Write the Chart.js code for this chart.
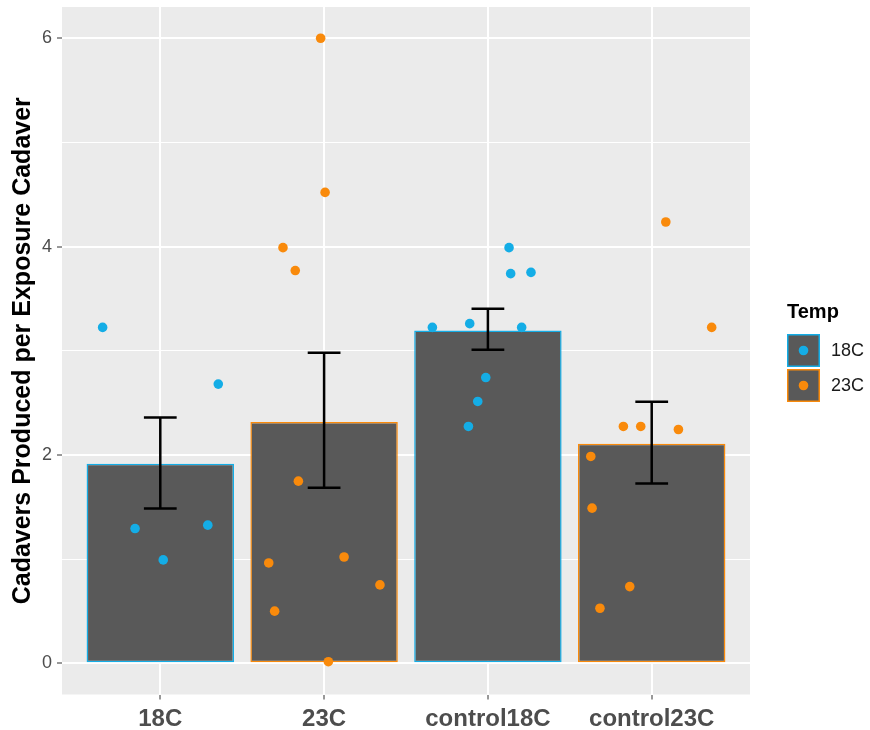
<!DOCTYPE html>
<html>
<head>
<meta charset="utf-8">
<script src="https://cdn.jsdelivr.net/npm/chart.js@4/dist/chart.umd.min.js"></script>
<style>
  html, body { margin: 0; padding: 0; background: #fff; }
  #wrap { width: 870px; height: 730px; }
</style>
</head>
<body>
<div id="wrap"><canvas id="chart"></canvas></div>
<script>
const categories = ['18C', '23C', 'control18C', 'control23C'];
const barTemp = ['18C', '23C', '18C', '23C'];
const means = [1.915, 2.315, 3.195, 2.107];
const errLow = [1.485, 1.684, 3.01, 1.725];
const errHigh = [2.36, 2.98, 3.403, 2.51];
const yTicks = [0, 2, 4, 6];
const tempLevels = ['18C', '23C'];

// raw observations, x = category position + jitter
const pts18x = [0.648, 0.846, 1.018, 1.29, 1.354, 2.661, 2.889, 3.206, 3.129, 3.139, 3.263, 2.987, 2.938, 2.881];
const pts18y = [3.224, 1.293, 0.992, 1.326, 2.68, 3.224, 3.26, 3.224, 3.99, 3.74, 3.752, 2.743, 2.513, 2.273];
const pts23x = [1.979, 2.006, 1.749, 1.824, 1.843, 1.662, 1.698, 2.026, 2.122, 2.341, 4.086, 4.366, 3.827, 3.933, 4.163, 3.628, 3.636, 3.684, 3.866];
const pts23y = [6.0, 4.52, 3.99, 3.77, 1.748, 0.963, 0.5, 0.015, 1.02, 0.752, 4.236, 3.224, 2.273, 2.273, 2.244, 1.985, 1.489, 0.528, 0.736];

const tempColors = { '18C': '#14ADE6', '23C': '#F98A0B' };
const barFill = '#595959';
const FONT = '"Liberation Sans", Arial, sans-serif';

const zip = (xs, ys) => xs.map((x, i) => ({ x: x, y: ys[i] }));

// grey panel behind the grid
const panelBg = {
    id: 'panelBg',
    beforeDraw(chart) {
        const a = chart.chartArea, ctx = chart.ctx;
        ctx.save();
        ctx.fillStyle = '#EBEBEB';
        ctx.fillRect(a.left, a.top, a.right - a.left, a.bottom - a.top);
        ctx.restore();
    }
};

// error bars on top of the bars
const errorBars = {
    id: 'errorBars',
    afterDatasetDraw(chart, args) {
        if (args.index !== 0) return;
        const xs = chart.scales.x, ys = chart.scales.y, ctx = chart.ctx;
        ctx.save();
        ctx.strokeStyle = '#000';
        ctx.lineWidth = 2.5;
        categories.forEach((c, i) => {
            const cx = xs.getPixelForValue(i + 1);
            const l = xs.getPixelForValue(i + 0.9), r = xs.getPixelForValue(i + 1.1);
            const top = ys.getPixelForValue(errHigh[i]), bot = ys.getPixelForValue(errLow[i]);
            ctx.beginPath();
            ctx.moveTo(l, top); ctx.lineTo(r, top);
            ctx.moveTo(cx, top); ctx.lineTo(cx, bot);
            ctx.moveTo(l, bot); ctx.lineTo(r, bot);
            ctx.stroke();
        });
        ctx.restore();
    }
};

// ggplot style legend on the right
const tempLegend = {
    id: 'tempLegend',
    afterDraw(chart) {
        const ctx = chart.ctx;
        ctx.save();
        ctx.fillStyle = '#000';
        ctx.font = 'bold 20px ' + FONT;
        ctx.textBaseline = 'middle';
        ctx.fillText('Temp', 787, 312);
        tempLevels.forEach((t, i) => {
            const y = 334 + i * 35;
            ctx.fillStyle = barFill;
            ctx.fillRect(787, y, 33, 33);
            ctx.strokeStyle = tempColors[t];
            ctx.lineWidth = 1.5;
            ctx.strokeRect(787.75, y + 0.75, 31.5, 31.5);
            ctx.fillStyle = tempColors[t];
            ctx.beginPath();
            ctx.arc(803.5, y + 16.5, 4.8, 0, Math.PI * 2);
            ctx.fill();
            ctx.fillStyle = '#1A1A1A';
            ctx.font = '18px ' + FONT;
            ctx.fillText(t, 831, y + 17);
        });
        ctx.restore();
    }
};

const noPad = s => { s.paddingTop = 0; s.paddingBottom = 0; s.paddingLeft = 0; s.paddingRight = 0; };

new Chart(document.getElementById('chart'), {
    data: {
        datasets: [
            {
                type: 'bar',
                data: means.map((m, i) => ({ x: i + 1, y: m })),
                backgroundColor: barFill,
                borderColor: barTemp.map(t => tempColors[t]),
                borderWidth: 1.5,
                borderSkipped: false,
                categoryPercentage: 1,
                barPercentage: 0.9,
                order: 2
            },
            {
                type: 'scatter',
                label: '18C',
                data: zip(pts18x, pts18y),
                backgroundColor: tempColors['18C'],
                borderWidth: 0,
                pointRadius: 4.8,
                order: 1
            },
            {
                type: 'scatter',
                label: '23C',
                data: zip(pts23x, pts23y),
                backgroundColor: tempColors['23C'],
                borderWidth: 0,
                pointRadius: 4.8,
                order: 1
            }
        ]
    },
    options: {
        responsive: true,
        maintainAspectRatio: false,
        animation: false,
        layout: { padding: { top: 7, right: 120, left: 0, bottom: 0 } },
        plugins: { legend: { display: false }, tooltip: { enabled: false } },
        scales: {
            x: {
                type: 'linear',
                min: 0.4,
                max: 4.6,
                offset: false,
                border: { display: false },
                grid: { offset: false, color: '#FFFFFF', lineWidth: 2, tickColor: '#333333', tickLength: 5, tickWidth: 1 },
                ticks: {
                    stepSize: 1,
                    includeBounds: false,
                    autoSkip: false,
                    maxRotation: 0,
                    padding: 5,
                    color: '#4D4D4D',
                    font: { family: FONT, size: 24, weight: 'bold' },
                    callback: v => categories[v - 1] || ''
                },
                afterFit: s => { s.height = 35.5; noPad(s); }
            },
            y: {
                min: -0.3,
                max: 6.3,
                border: { display: false },
                grid: {
                    color: '#FFFFFF',
                    lineWidth: c => (yTicks.includes(c.tick.value) ? 2 : 1),
                    tickColor: c => (yTicks.includes(c.tick.value) ? '#333333' : 'rgba(0,0,0,0)'),
                    tickLength: 5,
                    tickWidth: 1
                },
                ticks: {
                    stepSize: 1,
                    includeBounds: false,
                    autoSkip: false,
                    padding: 5,
                    color: '#4D4D4D',
                    font: { family: FONT, size: 18 },
                    callback: v => (yTicks.includes(v) ? String(v) : '')
                },
                title: {
                    display: true,
                    text: 'Cadavers Produced per Exposure Cadaver',
                    color: '#000',
                    font: { family: FONT, size: 25, weight: 'bold' },
                    padding: { top: 8, bottom: 0 }
                },
                afterFit: s => { s.width = 62; noPad(s); }
            }
        }
    },
    plugins: [panelBg, errorBars, tempLegend]
});
</script>
</body>
</html>
